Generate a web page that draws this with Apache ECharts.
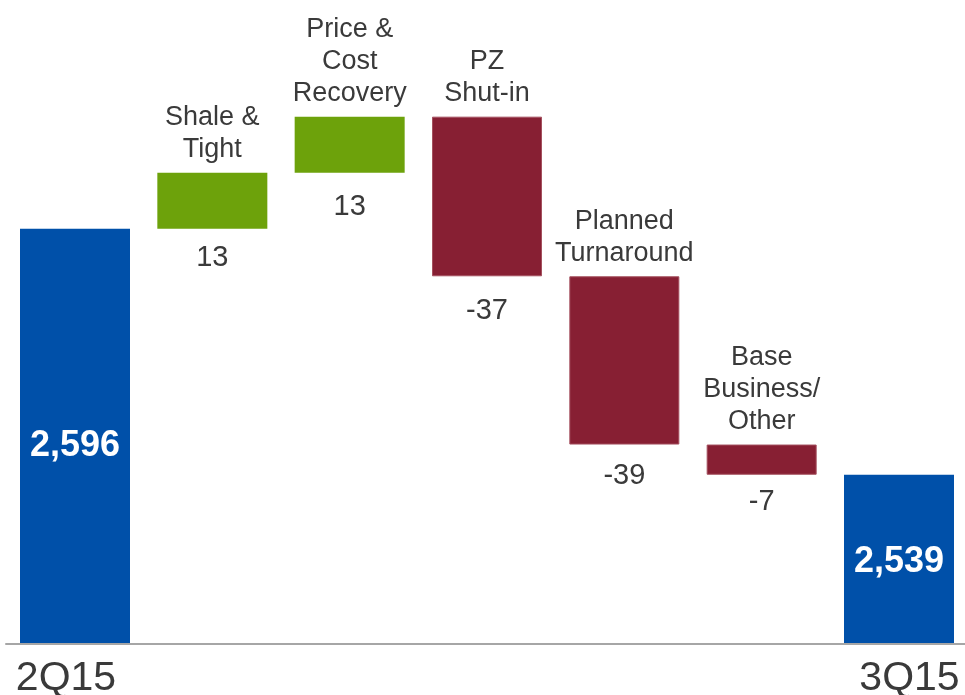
<!DOCTYPE html>
<html>
<head>
<meta charset="utf-8">
<script src="https://cdn.jsdelivr.net/npm/echarts@6/dist/echarts.min.js"></script>
<style>
html,body{margin:0;padding:0;background:#fff;}
#c{width:965px;height:695px;}
</style>
</head>
<body>
<div id="c"></div>
<script>
// ---- data ----
const categories = ['2Q15', 'Shale & Tight', 'Price & Cost Recovery', 'PZ Shut-in', 'Planned Turnaround', 'Base Business/Other', '3Q15'];
const barLabels = ['', 'Shale &\nTight', 'Price &\nCost\nRecovery', 'PZ\nShut-in', 'Planned\nTurnaround', 'Base\nBusiness/\nOther', ''];
const values = [2596, 13, 13, -37, -39, -7, 2539];
const isTotal = [true, false, false, false, false, false, true];
const tickLabels = ['2Q15', '', '', '', '', '', '3Q15'];
const axisMin = 2500;
const axisMax = 2640;

// ---- styles ----
const BLUE = '#0050A9', GREEN = '#6DA20B', RED = '#871F33';
const TXT = '#3a3a3a';
const FONT = '"Liberation Sans", Arial, Helvetica, sans-serif';
const valueLabelGap = [0, 15, 20, 20, 17, 13, 0];
const totalLabelShift = [10, 0, 0, 0, 0, 0, 3];

// ---- build waterfall (transparent base + visible bar, stacked) ----
const baseData = [], barData = [];
let cum = 0;
values.forEach((v, i) => {
  if (isTotal[i]) {
    cum = v;
    baseData.push({ value: axisMin });
    barData.push({
      value: v - axisMin,
      itemStyle: { color: BLUE },
      label: {
        show: true, position: 'inside', offset: [0, totalLabelShift[i]],
        formatter: () => v.toLocaleString('en-US'),
        color: '#fff', fontWeight: 'bold', fontSize: 36, fontFamily: FONT
      }
    });
  } else {
    const start = cum, end = cum + v;
    cum = end;
    baseData.push({
      value: Math.min(start, end),
      label: {
        show: true, position: 'insideTop', distance: valueLabelGap[i],
        formatter: () => String(v),
        color: TXT, fontSize: 29, lineHeight: 29, fontFamily: FONT
      }
    });
    barData.push({
      value: Math.abs(v),
      itemStyle: v >= 0
        ? { color: GREEN }
        : { color: RED, borderColor: '#a4505e', borderWidth: 1 },
      label: {
        show: true, position: 'top', distance: 7,
        formatter: () => barLabels[i],
        color: TXT, fontSize: 27, lineHeight: 32, fontFamily: FONT, align: 'center'
      }
    });
  }
});

const chart = echarts.init(document.getElementById('c'), null, { renderer: 'canvas' });
chart.setOption({
  animation: false,
  backgroundColor: '#fff',
  grid: [
    { left: 75, right: 66, top: 39, bottom: 52, containLabel: false, outerBoundsMode: 'none' },
    { left: 6, right: 0, top: 39, bottom: 51, containLabel: false, outerBoundsMode: 'none' }
  ],
  xAxis: [
    {
      type: 'category', gridIndex: 0, data: categories, boundaryGap: false,
      axisTick: { show: false }, axisLine: { show: false },
      axisLabel: {
        interval: 0, margin: 15,
        formatter: (val, idx) => {
          const t = tickLabels[idx];
          if (!t) return '';
          return idx === 0 ? '{l|' + t + '}' : '{r|' + t + '}';
        },
        rich: {
          l: { fontSize: 41, lineHeight: 41, color: TXT, fontFamily: FONT, padding: [0, 18, 0, 0] },
          r: { fontSize: 41, lineHeight: 41, color: TXT, fontFamily: FONT, padding: [0, 0, 0, 21] }
        }
      }
    },
    {
      type: 'category', gridIndex: 1, data: [''],
      axisTick: { show: false }, axisLabel: { show: false },
      axisLine: { lineStyle: { color: '#A6A6A6', width: 2 } }
    }
  ],
  yAxis: [
    { type: 'value', gridIndex: 0, min: axisMin, max: axisMax, show: false, splitLine: { show: false } },
    { type: 'value', gridIndex: 1, min: axisMin, max: axisMax, show: false, splitLine: { show: false } }
  ],
  series: [
    { type: 'bar', stack: 'w', data: baseData, barWidth: 110, clip: false,
      itemStyle: { color: 'rgba(0,0,0,0)' }, emphasis: { disabled: true }, silent: true, z: 1 },
    { type: 'bar', stack: 'w', data: barData, barWidth: 110, clip: false,
      emphasis: { disabled: true }, z: 2 }
  ]
});
</script>
</body>
</html>
